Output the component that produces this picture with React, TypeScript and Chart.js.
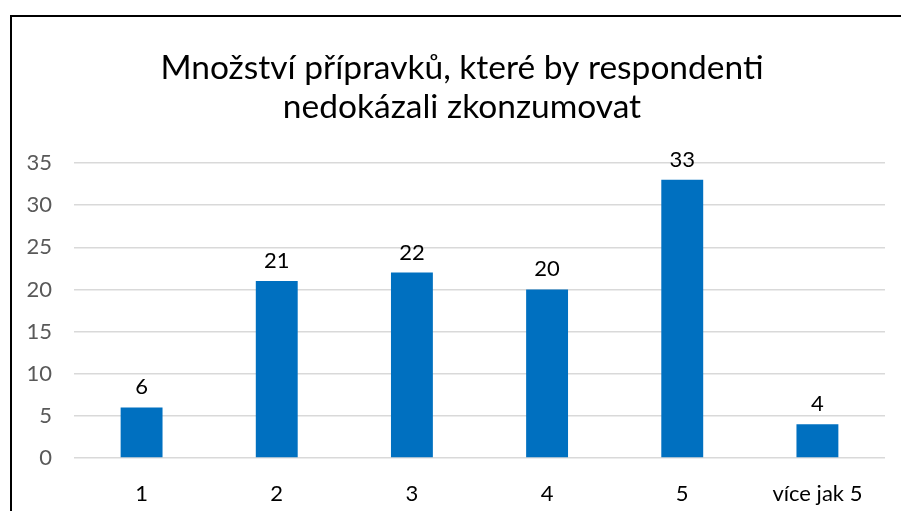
import React, { useEffect, useRef } from "react";
import { Chart, registerables } from "chart.js";

Chart.register(...registerables);

const categories = ["1", "2", "3", "4", "5", "více jak 5"];
const counts = [6, 21, 22, 20, 33, 4];
const titleLines = ["Množství přípravků, které by respondenti", "nedokázali zkonzumovat"];
const yMax = 35;
const yStep = 5;

const FONT = "Lato";

export default function App() {
  const ref = useRef<HTMLCanvasElement | null>(null);

  useEffect(() => {
    if (!ref.current) return;
    const titlePlugin = {
      id: "titleDraw",
      afterDraw(chart: any) {
        const ctx = chart.ctx;
        ctx.save();
        ctx.fillStyle = "#000000";
        ctx.font = `33.5px ${FONT}`;
        ctx.textAlign = "center";
        ctx.textBaseline = "alphabetic";
        ctx.fillText(titleLines[0], 462, 79);
        ctx.fillText(titleLines[1], 462, 118);
        ctx.restore();
      },
    };
    const labelPlugin = {
      id: "barLabels",
      afterDatasetsDraw(chart: any) {
        const ctx = chart.ctx;
        const meta = chart.getDatasetMeta(0);
        ctx.save();
        ctx.fillStyle = "#000000";
        ctx.font = `22px ${FONT}`;
        ctx.textAlign = "center";
        ctx.textBaseline = "alphabetic";
        meta.data.forEach((el: any, i: number) => {
          ctx.fillText(String(counts[i]), el.x, el.y - 13);
        });
        ctx.restore();
      },
    };
    const chart = new Chart(ref.current, {
      type: "bar",
      data: {
        labels: categories,
        datasets: [
          {
            data: counts,
            backgroundColor: "#0070C0",
            barPercentage: 0.31,
            categoryPercentage: 1,
          },
        ],
      },
      options: {
        animation: false,
        responsive: false,
        maintainAspectRatio: false,
        layout: { padding: { top: 163, right: 16, left: 0, bottom: 0 } },
        plugins: { legend: { display: false }, tooltip: { enabled: false }, title: { display: false } },
        scales: {
          x: {
            grid: { display: false, drawTicks: false },
            border: { display: false },
            ticks: { color: "#000000", font: { family: FONT, size: 22 }, padding: 23, maxRotation: 0 },
            afterFit(scale: any) {
              scale.height = 53;
            },
          },
          y: {
            min: 0,
            max: yMax,
            ticks: { stepSize: yStep, color: "#595959", font: { family: FONT, size: 22 }, padding: 22 },
            grid: { color: "#d9d9d9", lineWidth: 1.5, drawTicks: false },
            border: { display: false },
            afterFit(scale: any) {
              scale.width = 74;
            },
          },
        },
      },
      plugins: [titlePlugin, labelPlugin],
    });
    return () => chart.destroy();
  }, []);

  return (
    <div style={{ position: "absolute", left: 0, top: 0, width: 901, height: 511, background: "#ffffff", overflow: "hidden" }}>
      <canvas ref={ref} width={901} height={511} style={{ position: "absolute", left: 0, top: 0, width: 901, height: 511 }} />
      <div style={{ position: "absolute", left: 10, top: 15, width: 891, height: 496, borderTop: "2px solid #000", borderLeft: "2px solid #000", boxSizing: "border-box", pointerEvents: "none" }} />
    </div>
  );
}
